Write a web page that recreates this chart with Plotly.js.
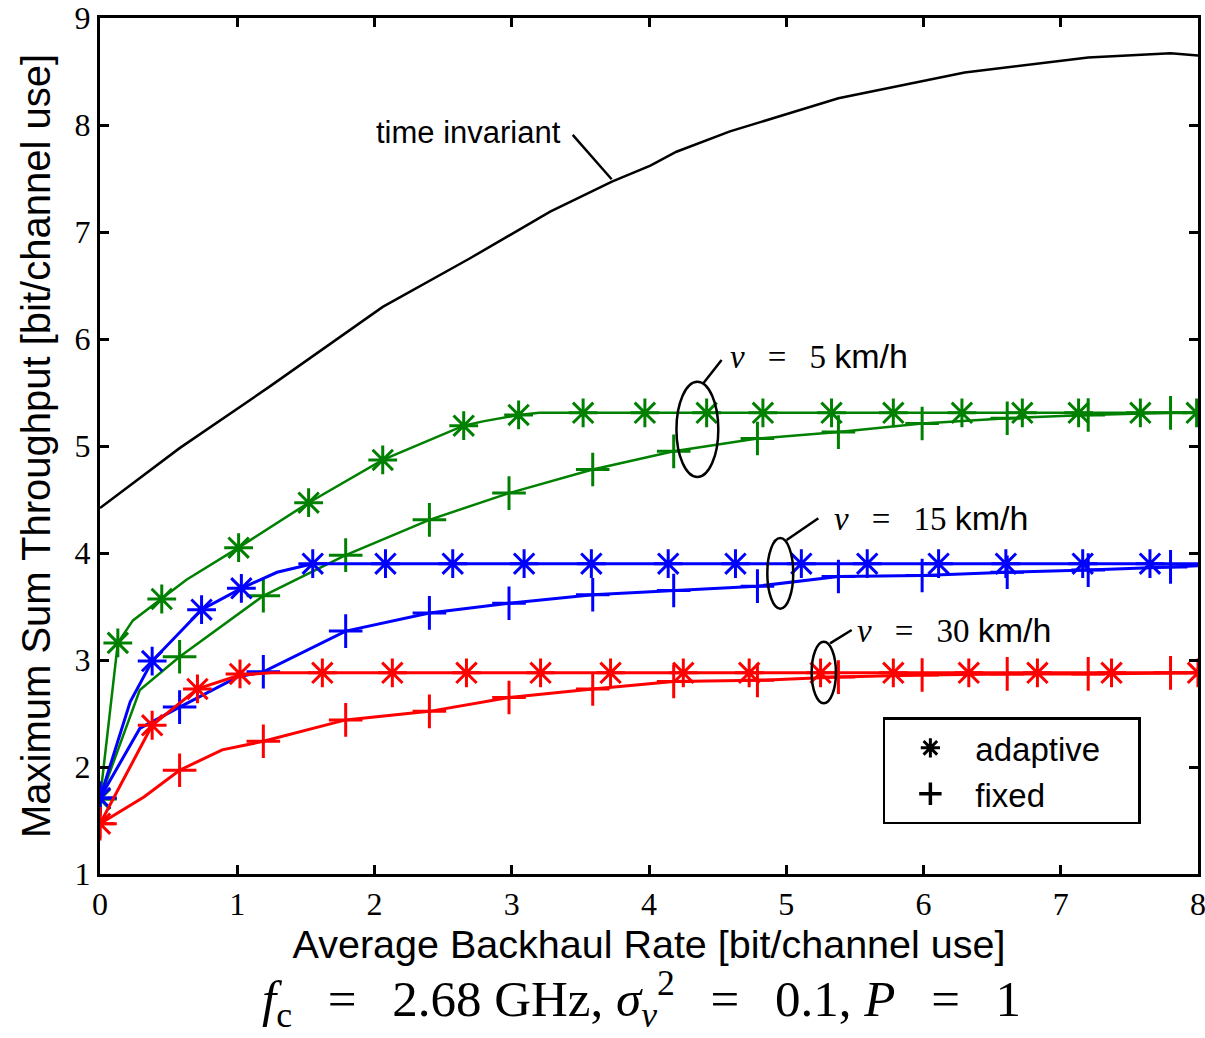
<!DOCTYPE html>
<html>
<head>
<meta charset="utf-8">
<script src="https://cdn.plot.ly/plotly-3.0.1.min.js"></script>
<style>html,body{margin:0;padding:0;background:#fff;}#chart{width:1205px;height:1038px;}</style>
</head>
<body>
<div id="chart"></div>
<script>
// ---- data ----
// time invariant (black curve)
const tiX = [0, 0.58, 1.23, 2.06, 2.69, 3.28, 3.73, 4.01, 4.20, 4.59, 5.38, 6.30, 7.20, 7.80, 8.0];
const tiY = [4.42, 4.98, 5.55, 6.30, 6.75, 7.19, 7.47, 7.62, 7.75, 7.94, 8.25, 8.49, 8.63, 8.67, 8.65];

// v = 5 km/h (green)
const g5AdaptLineX = [0, 0.13, 0.24, 0.45, 0.63, 1.01, 1.52, 2.06, 2.65, 2.79, 3.05, 3.20, 8.0];
const g5AdaptLineY = [1.70, 3.16, 3.37, 3.57, 3.75, 4.05, 4.47, 4.87, 5.19, 5.23, 5.29, 5.31, 5.31];
const g5AdaptMkX = [0, 0.13, 0.45, 1.01, 1.52, 2.06, 2.65, 3.05, 3.52, 3.97, 4.42, 4.83, 5.33, 5.78, 6.28, 6.72, 7.13, 7.58, 7.99];
const g5AdaptMkY = [1.70, 3.16, 3.57, 4.05, 4.47, 4.87, 5.19, 5.29, 5.31, 5.31, 5.31, 5.31, 5.31, 5.31, 5.31, 5.31, 5.31, 5.31, 5.31];
const g5FixLineX = [0, 0.29, 0.58, 1.19, 1.79, 2.40, 2.98, 3.59, 4.18, 4.79, 5.38, 5.99, 6.61, 7.20, 7.80, 8.0];
const g5FixLineY = [1.70, 2.72, 3.03, 3.60, 3.98, 4.31, 4.56, 4.78, 4.95, 5.07, 5.13, 5.21, 5.26, 5.29, 5.31, 5.31];
const g5FixMkX = [0, 0.58, 1.19, 1.79, 2.40, 2.98, 3.59, 4.18, 4.79, 5.38, 5.99, 6.61, 7.20, 7.80];
const g5FixMkY = [1.70, 3.03, 3.60, 3.98, 4.31, 4.56, 4.78, 4.95, 5.07, 5.13, 5.21, 5.26, 5.29, 5.31];

// v = 15 km/h (blue)
const b15AdaptLineX = [0, 0.22, 0.38, 0.74, 1.03, 1.19, 1.29, 1.55, 8.0];
const b15AdaptLineY = [1.71, 2.61, 2.99, 3.47, 3.67, 3.76, 3.82, 3.90, 3.90];
const b15AdaptMkX = [0, 0.38, 0.74, 1.03, 1.55, 2.08, 2.57, 3.09, 3.58, 4.14, 4.63, 5.11, 5.59, 6.11, 6.60, 7.16, 7.65];
const b15AdaptMkY = [1.71, 2.99, 3.47, 3.67, 3.90, 3.90, 3.90, 3.90, 3.90, 3.90, 3.90, 3.90, 3.90, 3.90, 3.90, 3.90, 3.90];
const b15FixLineX = [0, 0.29, 0.58, 1.00, 1.19, 1.79, 2.40, 2.98, 3.59, 4.18, 4.79, 5.38, 5.99, 6.61, 7.20, 7.80, 8.0];
const b15FixLineY = [1.71, 2.36, 2.56, 2.84, 2.89, 3.27, 3.44, 3.53, 3.61, 3.65, 3.69, 3.78, 3.79, 3.82, 3.84, 3.87, 3.88];
const b15FixMkX = [0, 0.58, 1.19, 1.79, 2.40, 2.98, 3.59, 4.18, 4.79, 5.38, 5.99, 6.61, 7.20, 7.80];
const b15FixMkY = [1.71, 2.56, 2.89, 3.27, 3.44, 3.53, 3.61, 3.65, 3.69, 3.78, 3.79, 3.82, 3.84, 3.87];

// v = 30 km/h (red)
const r30AdaptLineX = [0, 0.38, 0.71, 1.02, 1.25, 8.0];
const r30AdaptLineY = [1.47, 2.39, 2.73, 2.86, 2.88, 2.88];
const r30AdaptMkX = [0, 0.38, 0.71, 1.02, 1.62, 2.13, 2.67, 3.21, 3.72, 4.25, 4.73, 5.25, 5.78, 6.33, 6.83, 7.37, 8.0];
const r30AdaptMkY = [1.47, 2.39, 2.73, 2.87, 2.88, 2.88, 2.88, 2.88, 2.88, 2.88, 2.88, 2.88, 2.88, 2.88, 2.88, 2.88, 2.88];
const r30FixLineX = [0, 0.32, 0.58, 0.89, 1.19, 1.79, 2.40, 2.98, 3.59, 4.18, 4.79, 5.38, 5.99, 6.61, 7.20, 7.80, 8.0];
const r30FixLineY = [1.47, 1.72, 1.97, 2.16, 2.24, 2.44, 2.52, 2.65, 2.73, 2.80, 2.81, 2.84, 2.86, 2.87, 2.87, 2.88, 2.88];
const r30FixMkX = [0, 0.58, 1.19, 1.79, 2.40, 2.98, 3.59, 4.18, 4.79, 5.38, 5.99, 6.61, 7.20, 7.80];
const r30FixMkY = [1.47, 1.97, 2.24, 2.44, 2.52, 2.65, 2.73, 2.80, 2.81, 2.84, 2.86, 2.87, 2.87, 2.88];

const xTicks = [0, 1, 2, 3, 4, 5, 6, 7, 8];
const yTicks = [1, 2, 3, 4, 5, 6, 7, 8, 9];
const legendNames = ['adaptive', 'fixed'];

// ---- styling ----
const GREEN = '#008000', BLUE = '#0000ff', RED = '#ff0000';
const MK = 24, MKW = 3;

function lineTrace(x, y, color, w) {
  return {x: x, y: y, mode: 'lines', type: 'scatter', line: {color: color, width: w}, showlegend: false, hoverinfo: 'skip'};
}
function markTrace(x, y, color, sym) {
  return {x: x, y: y, mode: 'markers', type: 'scatter', showlegend: false, hoverinfo: 'skip',
    marker: {symbol: sym, size: MK, color: color, line: {color: color, width: MKW}}};
}

const traces = [
  lineTrace(tiX, tiY, '#000000', 2.5),
  lineTrace(g5AdaptLineX, g5AdaptLineY, GREEN, 2.5),
  markTrace(g5AdaptMkX, g5AdaptMkY, GREEN, 'asterisk-open'),
  lineTrace(g5FixLineX, g5FixLineY, GREEN, 2.5),
  markTrace(g5FixMkX, g5FixMkY, GREEN, 'cross-thin-open'),
  lineTrace(b15AdaptLineX, b15AdaptLineY, BLUE, 3),
  markTrace(b15AdaptMkX, b15AdaptMkY, BLUE, 'asterisk-open'),
  lineTrace(b15FixLineX, b15FixLineY, BLUE, 3),
  markTrace(b15FixMkX, b15FixMkY, BLUE, 'cross-thin-open'),
  lineTrace(r30AdaptLineX, r30AdaptLineY, RED, 3),
  markTrace(r30AdaptMkX, r30AdaptMkY, RED, 'asterisk-open'),
  lineTrace(r30FixLineX, r30FixLineY, RED, 3),
  markTrace(r30FixMkX, r30FixMkY, RED, 'cross-thin-open'),
  {x: [null], y: [null], mode: 'markers', type: 'scatter', name: legendNames[0] + '\u2003', showlegend: true,
   marker: {symbol: 'asterisk-open', size: 18, color: '#000', line: {color: '#000', width: 3}}},
  {x: [null], y: [null], mode: 'markers', type: 'scatter', name: legendNames[1], showlegend: true,
   marker: {symbol: 'cross-thin-open', size: 22, color: '#000', line: {color: '#000', width: 3.5}}}
];

const SERIF = '"Liberation Serif", "DejaVu Serif", serif';
const SANS = '"Liberation Sans", Arial, sans-serif';

const axisCommon = {
  showgrid: false, zeroline: false, showline: true, linecolor: '#000', linewidth: 3,
  mirror: 'ticks', ticks: 'inside', ticklen: 9, tickwidth: 3, tickcolor: '#000',
  ticklabeloverflow: 'allow',
  tickfont: {family: SERIF, size: 32, color: '#000'}
};

function ell(x0, x1, y0, y1) {
  return {type: 'circle', xref: 'x', yref: 'y', x0: x0, x1: x1, y0: y0, y1: y1, line: {color: '#000', width: 2.5}};
}
function seg(x0, y0, x1, y1) {
  return {type: 'line', xref: 'x', yref: 'y', x0: x0, y0: y0, x1: x1, y1: y1, line: {color: '#000', width: 2.5}};
}

const GAP = '\u2002\u2009';
function vLabel(num) {
  return '<i>v</i>' + GAP + '=' + GAP + num + ' <span style="font-family:Liberation Sans;font-size:34px">km/h</span>';
}

const layout = {
  width: 1205, height: 1038,
  margin: {l: 100, r: 7, t: 18, b: 164},
  paper_bgcolor: '#fff', plot_bgcolor: '#fff',
  xaxis: Object.assign({}, axisCommon, {
    range: [0, 8], tickvals: xTicks, ticktext: xTicks.map(String),
    title: {text: 'Average Backhaul Rate [bit/channel use]', font: {family: SANS, size: 39.5, color: '#000'}, standoff: 6}
  }),
  yaxis: Object.assign({}, axisCommon, {
    range: [1, 9], tickvals: yTicks, ticktext: yTicks.map(String),
    title: {text: 'Maximum Sum Throughput [bit/channel use]', font: {family: SANS, size: 40, color: '#000'}, standoff: 12}
  }),
  showlegend: true,
  legend: {
    x: 0.713, y: 0.183, xanchor: 'left', yanchor: 'top',
    bgcolor: '#fff', bordercolor: '#000', borderwidth: 2.5,
    font: {family: SANS, size: 33, color: '#000'},
    itemwidth: 80, tracegroupgap: 0
  },
  shapes: [
    ell(4.20, 4.505, 4.71, 5.60),
    seg(4.396, 5.586, 4.529, 5.804),
    ell(4.862, 5.051, 3.48, 4.14),
    seg(5.003, 4.121, 5.234, 4.324),
    ell(5.185, 5.362, 2.595, 3.17),
    seg(5.319, 3.156, 5.477, 3.280),
    seg(3.444, 7.907, 3.728, 7.493)
  ],
  annotations: [
    {x: 3.376, y: 7.93, xref: 'x', yref: 'y', xanchor: 'right', yanchor: 'middle', showarrow: false,
     text: 'time invariant', font: {family: SANS, size: 31, color: '#000'}},
    {x: 4.575, y: 5.84, xref: 'x', yref: 'y', xanchor: 'left', yanchor: 'middle', showarrow: false,
     text: vLabel('5'), font: {family: SERIF, size: 33, color: '#000'}},
    {x: 5.331, y: 4.327, xref: 'x', yref: 'y', xanchor: 'left', yanchor: 'middle', showarrow: false,
     text: vLabel('15'), font: {family: SERIF, size: 33, color: '#000'}},
    {x: 5.501, y: 3.28, xref: 'x', yref: 'y', xanchor: 'left', yanchor: 'middle', showarrow: false,
     text: vLabel('30'), font: {family: SERIF, size: 33, color: '#000'}},
    {x: 0.493, y: -0.146, xref: 'paper', yref: 'paper', xanchor: 'center', yanchor: 'middle', showarrow: false,
     text: '<i>f</i><sub>c</sub>' + GAP + '=' + GAP + '2.68 GHz, <i>σ</i><sub><i>v</i></sub><sup>2</sup>' + GAP + '=' + GAP + '0.1, <i>P</i>' + GAP + '=' + GAP + '1',
     font: {family: SERIF, size: 51, color: '#000'}}
  ]
};

Plotly.newPlot('chart', traces, layout, {displayModeBar: false, staticPlot: true});
</script>
</body>
</html>
